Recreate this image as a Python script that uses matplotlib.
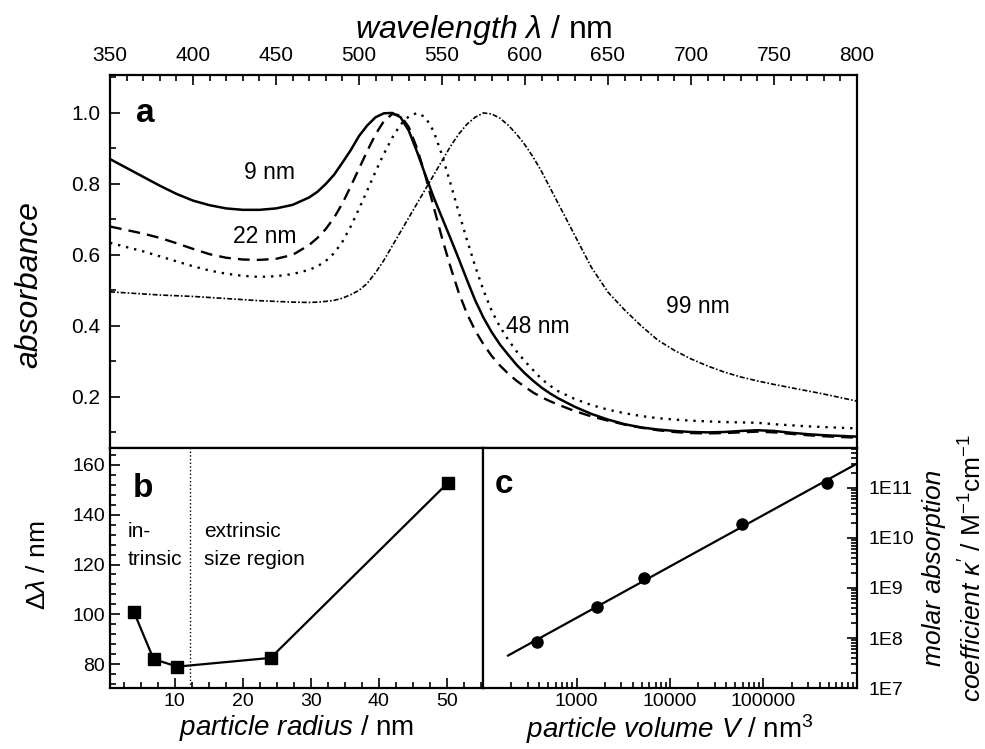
import numpy as np
import matplotlib
matplotlib.use("Agg")
import matplotlib.pyplot as plt
from matplotlib.ticker import MultipleLocator, AutoMinorLocator, LogLocator, FuncFormatter, NullFormatter

plt.rcParams['font.family'] = ['Liberation Sans', 'DejaVu Sans']
plt.rcParams['mathtext.fontset'] = 'custom'
plt.rcParams['mathtext.rm'] = 'Liberation Sans'
plt.rcParams['mathtext.it'] = 'Liberation Sans:italic'
plt.rcParams['mathtext.bf'] = 'Liberation Sans:bold'

# panel a: normalised absorbance spectra
wl = [350, 360, 370, 380, 390, 400, 410, 420, 430, 440, 450, 460, 470,
      475, 480, 485, 490, 495, 500, 505, 510, 515, 520, 525, 530, 535, 540, 545, 550,
      555, 560, 565, 570, 575, 580, 585, 590, 595, 600, 605, 610, 615, 620,
      630, 640, 650, 660, 670, 680, 690, 700, 710, 720, 730, 740, 750, 760, 770, 780,
      790, 800]
abs_9 = [0.870, 0.845, 0.820, 0.795, 0.772, 0.753, 0.740, 0.731, 0.727, 0.727, 0.731, 0.741, 0.762,
         0.778, 0.800, 0.826, 0.860, 0.895, 0.935, 0.965, 0.988, 0.999, 1.000, 0.988, 0.950, 0.890,
         0.825, 0.762, 0.705, 0.648, 0.590, 0.530, 0.472, 0.423, 0.382, 0.347, 0.318, 0.290, 0.266,
         0.245, 0.226, 0.210, 0.196,
         0.172, 0.152, 0.136, 0.123, 0.114, 0.108, 0.104, 0.101, 0.100, 0.101, 0.104, 0.106, 0.104,
         0.099, 0.095, 0.092, 0.090, 0.088]
abs_22 = [0.680, 0.670, 0.660, 0.648, 0.633, 0.617, 0.602, 0.592, 0.587, 0.586, 0.589, 0.600, 0.628,
          0.648, 0.673, 0.705, 0.745, 0.793, 0.843, 0.893, 0.940, 0.977, 0.997, 0.993, 0.960, 0.900,
          0.823, 0.735, 0.648, 0.568, 0.495, 0.435, 0.387, 0.348, 0.315, 0.288, 0.265, 0.245, 0.228,
          0.212, 0.199, 0.188, 0.178,
          0.160, 0.145, 0.133, 0.122, 0.113, 0.106, 0.101, 0.098, 0.097, 0.098, 0.100, 0.102, 0.100,
          0.096, 0.092, 0.089, 0.087, 0.085]
abs_48 = [0.634, 0.622, 0.610, 0.596, 0.582, 0.568, 0.556, 0.547, 0.541, 0.538, 0.540, 0.546, 0.558,
          0.568, 0.583, 0.605, 0.637, 0.680, 0.730, 0.782, 0.835, 0.885, 0.930, 0.967, 0.990, 1.000,
          0.988, 0.948, 0.882, 0.803, 0.722, 0.643, 0.568, 0.500, 0.442, 0.397, 0.360, 0.328, 0.300,
          0.275, 0.250, 0.232, 0.216,
          0.194, 0.177, 0.164, 0.154, 0.146, 0.140, 0.136, 0.133, 0.131, 0.129, 0.128, 0.127, 0.123,
          0.120, 0.117, 0.115, 0.113, 0.111]
abs_99 = [0.496, 0.493, 0.490, 0.487, 0.485, 0.483, 0.480, 0.477, 0.474, 0.471, 0.469, 0.467, 0.466,
          0.467, 0.469, 0.472, 0.478, 0.488, 0.500, 0.520, 0.550, 0.585, 0.625, 0.665, 0.705, 0.745,
          0.785, 0.825, 0.865, 0.905, 0.940, 0.968, 0.988, 1.000, 0.997, 0.985, 0.965, 0.940, 0.910,
          0.875, 0.835, 0.790, 0.745,
          0.655, 0.565, 0.495, 0.445, 0.400, 0.360, 0.331, 0.307, 0.287, 0.270, 0.256, 0.245, 0.235,
          0.226, 0.217, 0.208, 0.198, 0.188]
curve_labels = ['9 nm', '22 nm', '48 nm', '99 nm']
label_wl = [446, 443, 608, 704]
label_abs = [0.831, 0.653, 0.397, 0.456]

# panel b: bandwidth vs radius
radius = [4.0, 6.9, 10.4, 24.1, 50.1]
dlambda = [101, 82, 79, 82.5, 152.7]
region_border = 12.2

# panel c: molar absorption coefficient vs volume
volume = [375, 1670, 5300, 59000, 480000]
kappa = [8.3e7, 4.2e8, 1.6e9, 1.9e10, 1.26e11]
fit_range = [185, 1e6]

fig = plt.figure(figsize=(9.85, 7.49), dpi=100)
axa = fig.add_axes([0.1117, 0.4019, 0.7583, 0.4980])
axb = fig.add_axes([0.1117, 0.0814, 0.3787, 0.3205])
axc = fig.add_axes([0.4904, 0.0814, 0.3796, 0.3205])

for ax in (axa, axb, axc):
    for s in ax.spines.values():
        s.set_linewidth(1.6)
    ax.tick_params(which='both', direction='in', width=1.2, labelsize=14)
    ax.tick_params(which='major', length=7)
    ax.tick_params(which='minor', length=4)

# ---- a
axa.plot(wl, abs_9, 'k-', lw=1.8)
axa.plot(wl, abs_22, 'k', ls=(0, (5, 3)), lw=1.7)
axa.plot(wl, abs_48, 'k', ls=(0, (1, 2.5)), lw=1.7)
axa.plot(wl, abs_99, 'k', ls=(0, (3, 1.2, 1, 1.2)), lw=1.2)
axa.set_xlim(350, 800)
axa.set_ylim(0.056, 1.107)
axa.xaxis.tick_top()
axa.xaxis.set_label_position('top')
axa.xaxis.set_major_locator(MultipleLocator(50))
axa.xaxis.set_minor_locator(MultipleLocator(10))
axa.yaxis.set_major_locator(MultipleLocator(0.2))
axa.yaxis.set_minor_locator(MultipleLocator(0.1))
axa.yaxis.set_major_formatter(FuncFormatter(lambda v, p: '%.1f' % v))
axa.tick_params(labelsize=15, pad=7)
axa.set_xlabel(r'$\mathit{wavelength}\ \lambda$ / nm', fontsize=23, labelpad=6)
axa.set_ylabel('absorbance', fontsize=23, fontstyle='italic')
axa.yaxis.set_label_coords(-0.088, 0.437)
axa.text(365.7, 0.975, 'a', fontsize=24, fontweight='bold', va='baseline')
for lab, x, y in zip(curve_labels, label_wl, label_abs):
    axa.text(x, y, lab, fontsize=16.5, ha='center', va='center')

# ---- b
axb.plot(radius, dlambda, 'k-', lw=1.6, marker='s', ms=8)
axb.axvline(region_border, color='k', ls=':', lw=1.0)
axb.set_xlim(0.5, 55.3)
axb.set_ylim(70.4, 166.8)
axb.xaxis.set_major_locator(MultipleLocator(10))
axb.xaxis.set_minor_locator(AutoMinorLocator(4))
axb.yaxis.set_major_locator(MultipleLocator(20))
axb.yaxis.set_minor_locator(AutoMinorLocator(5))
axb.set_xlabel(r'$\mathit{particle\ radius}$ / nm', fontsize=20, labelpad=2)
axb.set_ylabel(r'$\mathit{\Delta\lambda}$ / nm', fontsize=19)
axb.yaxis.set_label_coords(-0.161, 0.512)
axb.text(3.8, 147, 'b', fontsize=24, fontweight='bold', va='baseline')
axb.text(3.1, 131, 'in-', fontsize=15, va='baseline')
axb.text(3.1, 119.8, 'trinsic', fontsize=15, va='baseline')
axb.text(14.3, 131, 'extrinsic', fontsize=15, va='baseline')
axb.text(14.3, 119.8, 'size region', fontsize=15, va='baseline')

# ---- c
axc.set_xscale('log')
axc.set_yscale('log')
slope, icpt = np.polyfit(np.log10(volume), np.log10(kappa), 1)
fx = np.array(fit_range)
axc.plot(fx, 10 ** (icpt + slope * np.log10(fx)), 'k-', lw=1.6)
axc.plot(volume, kappa, 'ko', ms=8)
axc.set_xlim(100, 1e6)
axc.set_ylim(1e7, 6.3e11)
axc.yaxis.tick_right()
axc.xaxis.set_major_locator(LogLocator(base=10))
axc.xaxis.set_minor_locator(LogLocator(base=10, subs=np.arange(2, 10)))
axc.xaxis.set_minor_formatter(NullFormatter())
axc.xaxis.set_major_formatter(FuncFormatter(
    lambda v, p: '%d' % round(v) if 999 < v < 200000 else ''))
axc.yaxis.set_major_locator(LogLocator(base=10))
axc.yaxis.set_minor_locator(LogLocator(base=10, subs=np.arange(2, 10)))
axc.yaxis.set_minor_formatter(NullFormatter())
axc.yaxis.set_major_formatter(FuncFormatter(lambda v, p: '1E%d' % round(np.log10(v))))
axc.tick_params(axis='y', pad=8)
axc.set_xlabel(r'$\mathit{particle\ volume\ V}$ / nm$^3$', fontsize=20, labelpad=2)
axc.text(1.205, 0.5, 'molar absorption', transform=axc.transAxes, fontsize=19,
         fontstyle='italic', rotation=90, ha='center', va='center')
axc.text(1.31, 0.5, r"$\mathit{coefficient\ \kappa'}$ / M$^{-1}$cm$^{-1}$", transform=axc.transAxes,
         fontsize=19, rotation=90, ha='center', va='center')
axc.text(134, 7.9e10, 'c', fontsize=24, fontweight='bold', va='baseline')

fig.savefig('out.png', dpi=100)
